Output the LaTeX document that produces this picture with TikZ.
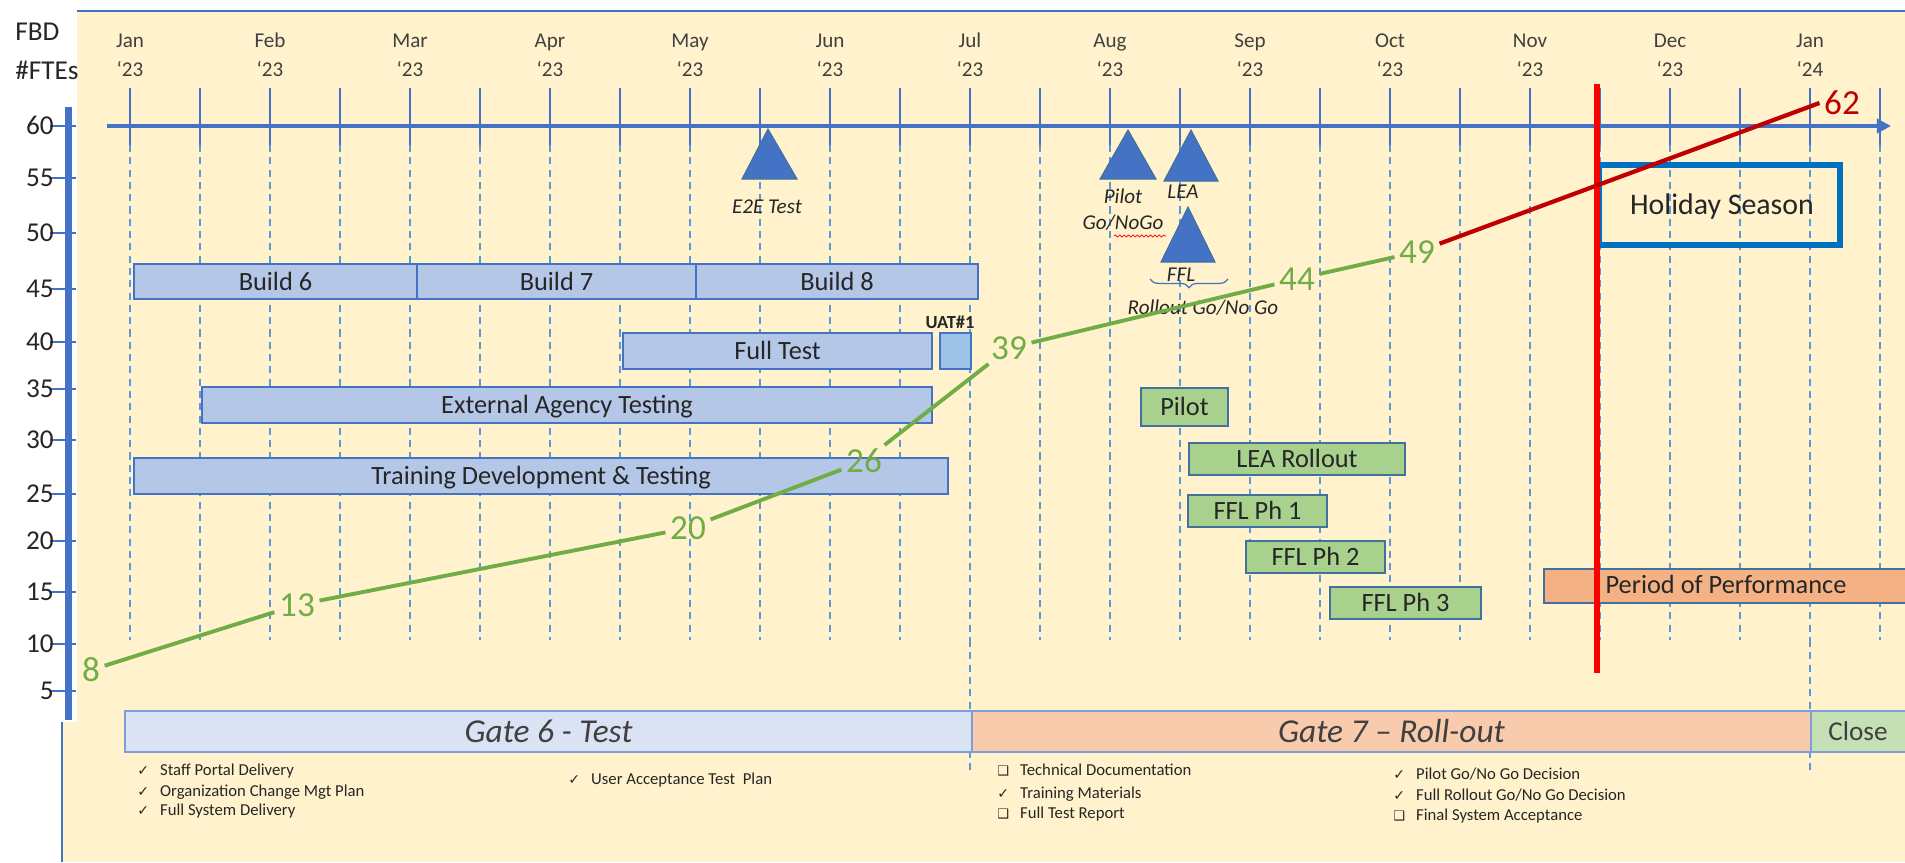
\documentclass[tikz,border=0pt]{standalone}
\usepackage{fontspec}
\setmainfont{Carlito}
\newfontfamily\symfont{DejaVu Sans}
\usetikzlibrary{arrows.meta,decorations.pathreplacing,decorations.pathmorphing}
\definecolor{cream}{HTML}{FFF2CC}
\definecolor{officeblue}{HTML}{4472C4}
\definecolor{gridblue}{HTML}{5B9BD5}
\definecolor{barblue}{HTML}{B4C7E7}
\definecolor{uatblue}{HTML}{9DC3E6}
\definecolor{bargreen}{HTML}{A9D18E}
\definecolor{barorange}{HTML}{F4B183}
\definecolor{gateblue}{HTML}{DAE3F3}
\definecolor{gateorange}{HTML}{F8CBAD}
\definecolor{gategreen}{HTML}{C5E0B4}
\definecolor{gateedge}{HTML}{7F9ED6}
\definecolor{ftegreen}{HTML}{70AD47}
\definecolor{ftered}{HTML}{C00000}
\definecolor{holidayblue}{HTML}{0070C0}
\definecolor{darktext}{HTML}{262626}
\definecolor{greytext}{HTML}{404040}
\definecolor{edgeblue}{HTML}{41719C}
\newcommand{\chkmark}{\makebox[13pt][l]{\symfont\fontsize{8}{8}\selectfont ✓}}
\newcommand{\chkbox}{\makebox[13pt][l]{\symfont\fontsize{7.5}{8}\selectfont ❑}}

\begin{document}
\begin{tikzpicture}[x={(0.02cm,0)}, y={(0,-0.02cm)},
    bartask/.style={fill=barblue, draw=officeblue, line width=0.9pt},
    bargo/.style={fill=bargreen, draw=edgeblue, line width=0.9pt},
    bartext/.style={font=\fontsize{15}{18}\selectfont, text=darktext, text height=9.7pt, text depth=0pt, inner sep=0pt},
    ftenum/.style={font=\fontsize{20}{24}\selectfont, text=ftegreen, text height=12.8pt, text depth=0pt, inner sep=2.5pt},
    fteline/.style={line width=2.2pt, ftegreen},
    milestone/.style={fill=officeblue, draw=edgeblue, line width=0.6pt},
    mslabel/.style={font=\itshape\fontsize{12}{15}\selectfont, text=darktext, text height=7.7pt, text depth=0pt, inner sep=0pt},
    gatebar/.style={draw=gateedge, line width=0.9pt},
    gatetext/.style={font=\itshape\fontsize{19}{22}\selectfont, text=greytext, text height=12.2pt, text depth=0pt, inner sep=0pt},
    checkitem/.style={anchor=base west, font=\fontsize{9.5}{11}\selectfont, text=darktext, inner sep=0pt},
    month/.style={font=\fontsize{12}{16.4}\selectfont, text=greytext, align=center, inner sep=0pt},
    axisnum/.style={font=\fontsize{15.5}{18}\selectfont, text=darktext, text height=9.8pt, text depth=0pt, inner sep=0pt, anchor=east},
    gridline/.style={gridblue, line width=0.8pt, dash pattern=on 4pt off 3pt},
    monthtick/.style={officeblue, line width=0.8pt}]

\useasboundingbox (0,0) rectangle (1905,862);
\fill[white] (0,0) rectangle (1905,862);

% cream chart area and white FTE axis box
\fill[cream] (62,11) rectangle (1905,862);
\draw[officeblue, line width=0.6pt] (77,11) -- (1905,11);
\draw[officeblue, line width=0.6pt] (62,722) -- (62,862);
\fill[white] (0,0) rectangle (77,722);

\begin{scope}
\clip (0,0) rectangle (77,722);
\node[anchor=west, inner sep=0pt, font=\fontsize{15.5}{18}\selectfont, text=darktext] (fbd) at (15,32) {FBD};
\node[anchor=west, inner sep=0pt, font=\fontsize{15.5}{18}\selectfont, text=darktext] (ftes) at (15,70) {\#FTEs};
\end{scope}

% FTE axis
\draw[officeblue, line width=4pt] (68.5,107) -- (68.5,720);
\foreach \v/\yy in {60/126, 55/178, 50/233, 45/289, 40/342, 35/389, 30/440, 25/494, 20/541, 15/592, 10/644, 5/691} {
    \draw[officeblue, line width=0.9pt] (50,\yy) -- (76,\yy);
    \node[axisnum] (ax\v) at (54,\yy) {\v};
}

% month grid
\foreach \i in {0,...,25} {
    \draw[gridline] ({130+70*\i},145) -- ({130+70*\i},640);
    \draw[monthtick] ({130+70*\i},88) -- ({130+70*\i},145);
}
\foreach \i in {12,24}
    \draw[gridline] ({130+70*\i},640) -- ({130+70*\i},770);

\draw[officeblue, line width=2.6pt, -{Triangle[length=8pt,width=8pt]}] (107,126) -- (1891,126);

\foreach \mon/\yr [count=\i from 0] in {Jan/23, Feb/23, Mar/23, Apr/23, May/23, Jun/23, Jul/23, Aug/23, Sep/23, Oct/23, Nov/23, Dec/23, Jan/24}
    \node[month] (mon\i) at ({130+140*\i},55) {\mon\\‘\yr};

% test tasks
\draw[bartask] (134,264) rectangle (417,299) node[midway, bartext] (build6) {Build 6};
\draw[bartask] (417,264) rectangle (696,299) node[midway, bartext] (build7) {Build 7};
\draw[bartask] (696,264) rectangle (978,299) node[midway, bartext] (build8) {Build 8};
\draw[bartask] (623,333) rectangle (932,369) node[midway, bartext] (fulltest) {Full Test};
\draw[bartask, fill=uatblue] (940,333) rectangle (971,369);
\node[font=\bfseries\fontsize{10.5}{12}\selectfont, text=darktext, inner sep=0pt] (uat) at (950,322) {UAT\#1};
\draw[bartask] (202,387) rectangle (932,423) node[midway, bartext] (extagency) {External Agency Testing};
\draw[bartask] (134,458) rectangle (948,494) node[midway, bartext] (training) {Training Development \& Testing};

% rollout tasks
\draw[bargo] (1141,388) rectangle (1228,426) node[midway, bartext] (pilot) {Pilot};
\draw[bargo] (1189,443) rectangle (1405,475) node[midway, bartext] (learoll) {LEA Rollout};
\draw[bargo] (1188,495) rectangle (1327,527) node[midway, bartext] (fflone) {FFL Ph 1};
\draw[bargo] (1246,541) rectangle (1385,573) node[midway, bartext] (ffltwo) {FFL Ph 2};
\draw[bargo] (1330,587) rectangle (1481,619) node[midway, bartext] (fflthree) {FFL Ph 3};
\draw[bargo, fill=barorange] (1544,569) rectangle (1910,603);
\node[bartext] (perf) at (1726,585) {Period of Performance};

% milestones
\filldraw[milestone] (768,129) -- (742,179) -- (797,179) -- cycle;
\node[mslabel] (e2e) at (767,207) {E2E Test};
\filldraw[milestone] (1128,130) -- (1100,179) -- (1156,179) -- cycle;
\node[mslabel] (pilotms) at (1123,197) {Pilot};
\node[mslabel] (gonogo) at (1123,223) {Go/NoGo};
\draw[red, line width=0.4pt, decorate, decoration={snake, amplitude=0.6pt, segment length=2.5pt}] (1114,236) -- (1166,236);
\filldraw[milestone] (1191,130) -- (1164,181) -- (1218,181) -- cycle;
\node[mslabel] (leams) at (1183,192) {LEA};
\filldraw[milestone] (1188,207) -- (1161,262) -- (1215,262) -- cycle;
\node[mslabel] (fflms) at (1181,275) {FFL};
\draw[officeblue, line width=0.7pt, decorate, decoration={brace, mirror, amplitude=5pt}] (1150,279) -- (1228,279);
\node[mslabel] (rollgo) at (1203,308) {Rollout Go/No Go};

% holiday season
\draw[holidayblue, line width=3.4pt] (1599,165) rectangle (1840,245);
\node[bartext, font=\fontsize{17}{20}\selectfont, text height=11pt] (holiday) at (1722,205) {Holiday Season};
\draw[red, line width=3.4pt] (1597,84) -- (1597,673);

% FTE curve
\node[ftenum] (fte8) at (91,670) {8};
\node[ftenum] (fte13) at (297,605) {13};
\node[ftenum] (fte20) at (688,528) {20};
\node[ftenum] (fte26) at (864,461) {26};
\node[ftenum] (fte39) at (1009,348) {39};
\node[ftenum] (fte44) at (1297,279) {44};
\node[ftenum] (fte49) at (1417,252) {49};
\node[ftenum, text=ftered] (fte62) at (1842,103) {62};
\draw[fteline] (fte8) -- (fte13) -- (fte20) -- (fte26) -- (fte39) -- (fte44) -- (fte49);
\draw[fteline, ftered, line width=2.4pt] (fte49) -- (fte62.west);

% gates
\draw[gatebar, fill=gateblue] (125,711) rectangle (972,752) node[midway, gatetext] (gatesix) {Gate 6 - Test};
\draw[gatebar, fill=gateorange] (972,711) rectangle (1811,752) node[midway, gatetext] (gateseven) {Gate 7 – Roll-out};
\draw[gatebar, fill=gategreen] (1811,711) rectangle (1910,752);
\node[gatetext, font=\fontsize{15.5}{18}\selectfont, text height=10pt] (close) at (1858,732) {Close};

% deliverables
\node[checkitem] (g6a) at (137,775) {\chkmark Staff Portal Delivery};
\node[checkitem] (g6b) at (137,796) {\chkmark Organization Change Mgt Plan};
\node[checkitem] (g6c) at (137,815) {\chkmark Full System Delivery};
\node[checkitem] (g6d) at (568,784) {\chkmark User Acceptance Test\ \ Plan};
\node[checkitem] (g7a) at (997,775) {\chkbox Technical Documentation};
\node[checkitem] (g7b) at (997,798) {\chkmark Training Materials};
\node[checkitem] (g7c) at (997,818) {\chkbox Full Test Report};
\node[checkitem] (g7d) at (1393,779) {\chkmark Pilot Go/No Go Decision};
\node[checkitem] (g7e) at (1393,800) {\chkmark Full Rollout Go/No Go Decision};
\node[checkitem] (g7f) at (1393,820) {\chkbox Final System Acceptance};

\end{tikzpicture}
\end{document}
